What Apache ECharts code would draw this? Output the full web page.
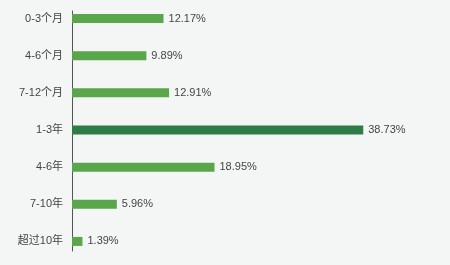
<!DOCTYPE html>
<html><head><meta charset="utf-8">
<script src="https://cdn.jsdelivr.net/npm/echarts@6/dist/echarts.min.js"></script>
<style>html,body{margin:0;padding:0;background:#f4f6f5}#c{width:450px;height:265px}</style>
</head><body><div id="c"></div>
<script>
const categories = ['0-3个月', '4-6个月', '7-12个月', '1-3年', '4-6年', '7-10年', '超过10年'];
const values = [12.17, 9.89, 12.91, 38.73, 18.95, 5.96, 1.39];
const highlightIndex = 3;

const chart = echarts.init(document.getElementById('c'));
chart.setOption({
  backgroundColor: '#f4f6f5',
  animation: false,
  grid: [
    {left: 72, top: 0, bottom: 5, width: 376},
    {left: 72, top: 11, bottom: 14, width: 376}
  ],
  xAxis: [
    {gridIndex: 0, type: 'value', min: 0, max: 50, show: false},
    {gridIndex: 1, type: 'value', min: 0, max: 1, show: false}
  ],
  yAxis: [
    {gridIndex: 0, type: 'category', data: categories, inverse: true,
     axisLine: {show: false}, axisTick: {show: false},
     axisLabel: {margin: 9, color: '#444', fontSize: 11, fontFamily: 'Liberation Sans, Noto Sans CJK SC, sans-serif'}},
    {gridIndex: 1, type: 'value', min: 0, max: 1,
     axisLine: {show: true, lineStyle: {color: '#555', width: 1}},
     axisTick: {show: false}, axisLabel: {show: false}, splitLine: {show: false}}
  ],
  series: [{
    type: 'bar', xAxisIndex: 0, yAxisIndex: 0,
    barWidth: 9,
    data: values.map((v, i) => ({value: v, itemStyle: {color: i === highlightIndex ? '#2e7d47' : '#5aa64a'}})),
    label: {show: true, position: 'right', distance: 5, formatter: p => p.value.toFixed(2) + '%',
      color: '#444', fontSize: 11, fontFamily: 'Liberation Sans, sans-serif'}
  }]
});
</script></body></html>
